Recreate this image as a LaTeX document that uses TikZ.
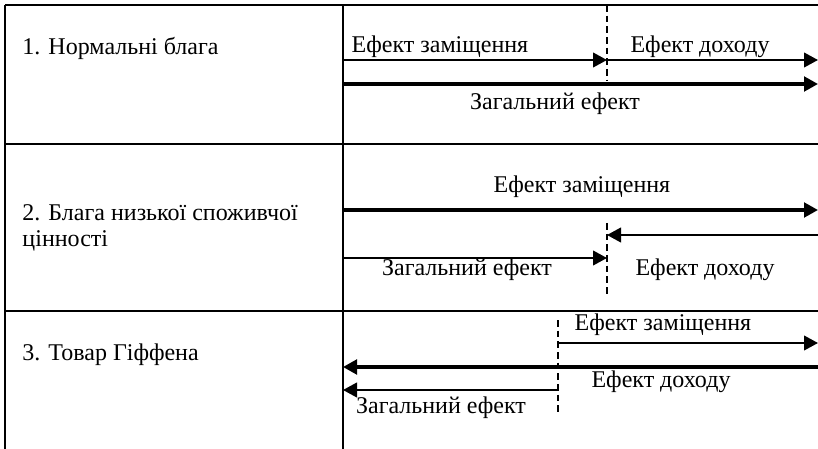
\documentclass[tikz,border=0pt]{standalone}
\usepackage{fontspec}
\setmainfont{Liberation Serif}
\usetikzlibrary{arrows.meta}

\tikzset{every picture/.style={line width=0.75pt}}
\tikzset{
  grid/.style={line width=1.2pt},
  effarrow/.style={line width=1.5pt,-{Triangle[length=10.5pt,width=11pt]}},
  bigarrow/.style={line width=2.3pt,-{Triangle[length=10.5pt,width=11pt]}},
  divider/.style={line width=0.8pt,dash pattern=on 5pt off 3pt},
  lbl/.style={inner sep=0pt,font=\fontsize{18}{20}\selectfont},
  rowlbl/.style={lbl,anchor=west,align=left}
}

\begin{document}
\begin{tikzpicture}[x=0.75pt,y=0.75pt,yscale=-1,xscale=1]
\useasboundingbox (0,0) rectangle (818,449);

%Table
\draw [grid] (5,5) -- (818,5) ;
\draw [grid] (5,144) -- (818,144) ;
\draw [grid] (5,311) -- (818,311) ;
\draw [grid] (5,5) -- (5,449) ;
\draw [grid] (343,5) -- (343,449) ;

%Row 1
\node [rowlbl] (r1) at (22,48) {1. Нормальні блага};
\coordinate (a1s) at (343,60);
\coordinate (a1m) at (607,60);
\coordinate (a1e) at (818,60);
\coordinate (b1s) at (343,84);
\coordinate (b1e) at (818,84);
\coordinate (d1t) at (607,5);
\coordinate (d1b) at (607,80);
\draw [divider] (d1t) -- (d1b) ;
\draw [effarrow] (a1s) -- (a1m) ;
\draw [effarrow] (a1m) -- (a1e) ;
\draw [bigarrow] (b1s) -- (b1e) ;
\node [lbl] (sub1) at (440,47) {Ефект заміщення};
\node [lbl] (inc1) at (700,47) {Ефект доходу};
\node [lbl] (tot1) at (555,104) {Загальний ефект};

%Row 2
\node [rowlbl] (r2) at (22,228) {2. Блага низької споживчої\\цінності};
\coordinate (a2s) at (343,210);
\coordinate (a2e) at (818,210);
\coordinate (b2s) at (818,235);
\coordinate (b2e) at (607,235);
\coordinate (c2s) at (343,258);
\coordinate (c2e) at (607,258);
\coordinate (d2t) at (607,223);
\coordinate (d2b) at (607,296);
\draw [divider] (d2t) -- (d2b) ;
\draw [bigarrow] (a2s) -- (a2e) ;
\draw [effarrow] (b2s) -- (b2e) ;
\draw [effarrow] (c2s) -- (c2e) ;
\node [lbl] (sub2) at (582,187) {Ефект заміщення};
\node [lbl] (inc2) at (705,270) {Ефект доходу};
\node [lbl] (tot2) at (467,270) {Загальний ефект};

%Row 3
\node [rowlbl] (r3) at (22,355) {3. Товар Гіффена};
\coordinate (a3s) at (558,343);
\coordinate (a3e) at (818,343);
\coordinate (b3s) at (818,367);
\coordinate (b3e) at (343,367);
\coordinate (c3s) at (558,390);
\coordinate (c3e) at (343,390);
\coordinate (d3t) at (558,320);
\coordinate (d3b) at (558,412);
\draw [divider] (d3t) -- (d3b) ;
\draw [effarrow] (a3s) -- (a3e) ;
\draw [bigarrow] (b3s) -- (b3e) ;
\draw [effarrow] (c3s) -- (c3e) ;
\node [lbl] (sub3) at (663,325) {Ефект заміщення};
\node [lbl] (inc3) at (661,382) {Ефект доходу};
\node [lbl] (tot3) at (441,408) {Загальний ефект};

\end{tikzpicture}
\end{document}
